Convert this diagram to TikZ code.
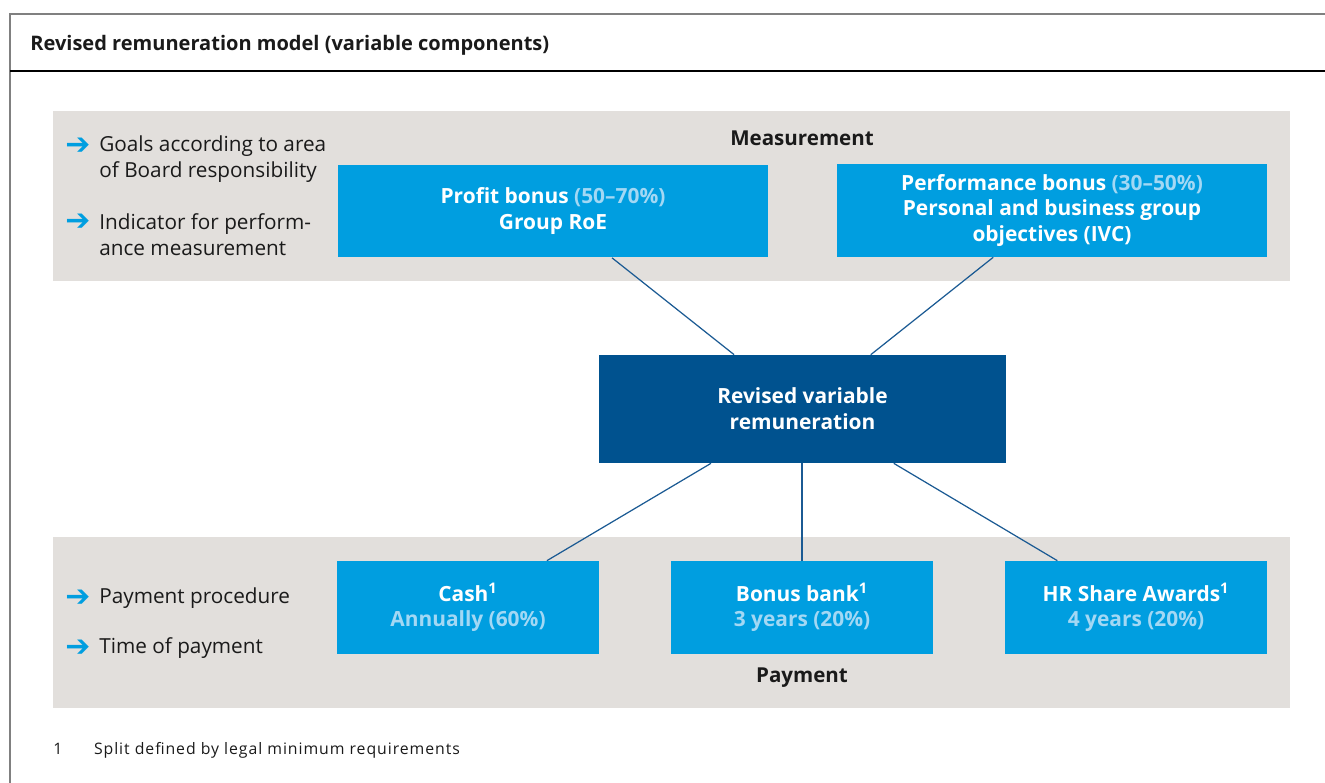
\documentclass[tikz,border=0pt]{standalone}
\usepackage{fontspec}
\setmainfont{Open Sans}
\newfontfamily\symfont{DejaVu Sans}
\usetikzlibrary{calc}
\definecolor{mrblue}{HTML}{009EE0}
\definecolor{mrdark}{HTML}{00528F}
\definecolor{mrlight}{HTML}{A3D8F4}
\definecolor{mrgrey}{HTML}{E2DFDC}
\definecolor{mrline}{HTML}{1B5A93}
\definecolor{mrtext}{HTML}{1A1A1A}

\begin{document}
\begin{tikzpicture}[x=0.02cm,y=-0.02cm,
  panel/.style={fill=mrgrey},
  box/.style={fill=mrblue, text=white, align=center, inner sep=0pt,
    font=\bfseries\fontsize{11.9}{14.7}\selectfont,
    minimum width=8.6cm, minimum height=1.86cm},
  smallbox/.style={box, minimum width=5.24cm},
  link/.style={draw=mrline, line width=0.7pt},
  note/.style={anchor=west, align=left, text=mrtext, inner sep=0pt,
    font=\fontsize{11.8}{14.7}\selectfont},
  bul/.style={anchor=west, inner sep=0pt, text=mrblue,
    font=\symfont\bfseries\fontsize{17}{18}\selectfont},
  head/.style={text=mrtext, inner sep=0pt, font=\bfseries\fontsize{11.7}{14}\selectfont}]
  \useasboundingbox (0,0) rectangle (1325,783);
  % frame and title
  \draw[gray, line width=0.6pt] (10,783) -- (10,14) -- (1325,14);
  \draw[black, line width=1.4pt] (10,71) -- (1325,71);
  \node[head, anchor=west, font=\bfseries\fontsize{11.4}{14}\selectfont] (title) at (30,45)
    {Revised remuneration model (variable components)};
  % grey panels
  \fill[panel] (53,111) rectangle (1290,281);
  \fill[panel] (53,537) rectangle (1290,708);
  \node[head] (meas) at (802,138) {Measurement};
  \node[head] (pay) at (802,678) {Payment};
  % left notes
  \node[bul] (b1) at (65,146) {➔};
  \node[note] (goals) at (99,159) {Goals according to area\\of Board responsibility};
  \node[bul] (b2) at (65,222) {➔};
  \node[note] (indic) at (99,235) {Indicator for perform-\\ance measurement};
  \node[bul] (b3) at (65,598) {➔};
  \node[note] (proc) at (99,598) {Payment procedure};
  \node[bul] (b4) at (65,648) {➔};
  \node[note] (time) at (99,648) {Time of payment};
  % boxes
  \node[box] (profit) at (553,211) {Profit bonus {\color{mrlight}(50–70\%)}\\Group RoE};
  \node[box] (perf) at (1052,210.5) {Performance bonus {\color{mrlight}(30–50\%)}\\Personal and business group\\objectives (IVC)};
  \node[box, fill=mrdark, minimum width=8.14cm, minimum height=2.16cm] (revised) at (802.5,409)
    {Revised variable\\remuneration};
  \node[smallbox] (cash) at (468,607.5) {Cash\textsuperscript{1}\\{\color{mrlight}Annually (60\%)}};
  \node[smallbox] (bank) at (802,607.5) {Bonus bank\textsuperscript{1}\\{\color{mrlight}3 years (20\%)}};
  \node[smallbox] (share) at (1136,607.5) {HR Share Awards\textsuperscript{1}\\{\color{mrlight}4 years (20\%)}};
  % connectors
  \draw[link] (profit) -- (revised);
  \draw[link] (perf) -- (revised);
  \draw[link] (revised) -- (cash);
  \draw[link] (revised.south -| bank) -- (bank);
  \draw[link] (revised) -- (share);
  % footnote
  \node[note, font=\fontsize{9}{11}\selectfont\addfontfeatures{LetterSpace=6}] (fn) at (53,750)
    {1\hspace{18pt}Split defined by legal minimum requirements};
\end{tikzpicture}
\end{document}
